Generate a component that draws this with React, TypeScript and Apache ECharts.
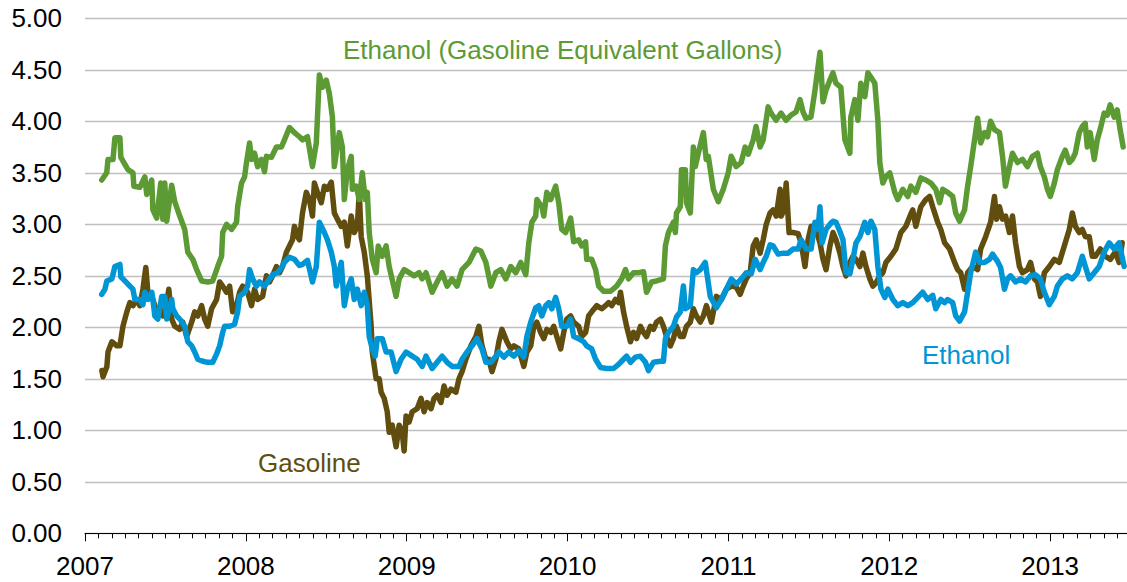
import React, { useEffect, useRef } from "react";
import * as echarts from "echarts";

// Y axis ticks (dollars per gallon)
const Y_MIN = 0;
const Y_MAX = 5;
const Y_STEP = 0.5;
// X axis (years)
const X_MIN = 2007;
const X_MAX = 2014;
const YEAR_LABELS = [2007, 2008, 2009, 2010, 2011, 2012, 2013];

const SERIES_NAMES = ["Gasoline", "Ethanol", "Ethanol (Gasoline Equivalent Gallons)"];
const COLORS = { gasoline: "#614E0E", ethanol: "#0096D6", gge: "#5C9A34" };

// [decimal year, $/gal]
const ETHANOL_GGE: [number, number][] = [[2007.104,3.43],[2007.135,3.50],[2007.143,3.63],[2007.174,3.63],[2007.186,3.84],[2007.217,3.84],[2007.223,3.65],[2007.267,3.53],[2007.298,3.50],[2007.304,3.37],[2007.341,3.36],[2007.372,3.46],[2007.384,3.29],[2007.415,3.43],[2007.422,3.14],[2007.446,3.06],[2007.471,3.40],[2007.484,3.05],[2007.496,3.40],[2007.508,3.03],[2007.539,3.38],[2007.558,3.22],[2007.589,3.08],[2007.620,2.95],[2007.639,2.73],[2007.670,2.66],[2007.694,2.56],[2007.725,2.45],[2007.763,2.44],[2007.794,2.45],[2007.825,2.59],[2007.849,2.69],[2007.856,2.92],[2007.880,3.00],[2007.911,2.95],[2007.942,3.02],[2007.949,3.17],[2007.973,3.40],[2007.992,3.46],[2008.004,3.60],[2008.023,3.79],[2008.035,3.63],[2008.054,3.69],[2008.073,3.56],[2008.097,3.63],[2008.116,3.51],[2008.128,3.66],[2008.159,3.65],[2008.190,3.75],[2008.221,3.75],[2008.240,3.82],[2008.271,3.94],[2008.302,3.89],[2008.333,3.85],[2008.352,3.82],[2008.383,3.85],[2008.414,3.56],[2008.438,3.79],[2008.457,4.45],[2008.476,4.33],[2008.500,4.40],[2008.519,4.27],[2008.538,4.04],[2008.550,3.56],[2008.581,3.89],[2008.600,3.75],[2008.612,3.24],[2008.631,3.53],[2008.655,3.66],[2008.662,3.34],[2008.686,3.37],[2008.705,3.24],[2008.724,3.50],[2008.742,3.24],[2008.755,3.31],[2008.767,2.92],[2008.786,2.66],[2008.810,2.53],[2008.823,2.79],[2008.848,2.69],[2008.872,2.79],[2008.891,2.59],[2008.934,2.30],[2008.953,2.47],[2008.984,2.56],[2009.015,2.53],[2009.046,2.50],[2009.077,2.53],[2009.096,2.47],[2009.120,2.53],[2009.158,2.34],[2009.189,2.44],[2009.220,2.53],[2009.251,2.40],[2009.282,2.47],[2009.313,2.40],[2009.344,2.56],[2009.387,2.63],[2009.430,2.76],[2009.461,2.74],[2009.492,2.63],[2009.523,2.40],[2009.554,2.53],[2009.585,2.56],[2009.616,2.47],[2009.647,2.59],[2009.678,2.53],[2009.709,2.63],[2009.740,2.51],[2009.759,2.82],[2009.778,3.02],[2009.802,3.08],[2009.809,3.24],[2009.840,3.17],[2009.852,3.08],[2009.871,3.31],[2009.895,3.24],[2009.926,3.37],[2009.945,3.21],[2009.964,2.95],[2009.988,2.92],[2010.019,3.06],[2010.038,2.83],[2010.069,2.85],[2010.088,2.79],[2010.112,2.83],[2010.119,2.66],[2010.150,2.66],[2010.174,2.56],[2010.193,2.40],[2010.224,2.35],[2010.267,2.35],[2010.305,2.40],[2010.336,2.47],[2010.360,2.56],[2010.379,2.47],[2010.410,2.53],[2010.441,2.53],[2010.472,2.54],[2010.491,2.34],[2010.522,2.44],[2010.553,2.45],[2010.596,2.47],[2010.608,2.79],[2010.627,2.92],[2010.658,3.02],[2010.670,2.92],[2010.677,3.11],[2010.701,3.17],[2010.708,3.53],[2010.732,3.53],[2010.739,3.21],[2010.763,3.11],[2010.782,3.75],[2010.794,3.56],[2010.813,3.69],[2010.844,3.89],[2010.862,3.63],[2010.875,3.66],[2010.906,3.34],[2010.937,3.22],[2010.968,3.34],[2010.999,3.50],[2011.017,3.66],[2011.048,3.56],[2011.079,3.60],[2011.104,3.75],[2011.123,3.68],[2011.154,3.82],[2011.172,3.95],[2011.197,3.75],[2011.216,3.82],[2011.247,4.14],[2011.265,4.08],[2011.296,4.01],[2011.327,4.08],[2011.358,4.01],[2011.389,4.06],[2011.420,4.09],[2011.445,4.21],[2011.464,4.09],[2011.482,4.03],[2011.513,4.04],[2011.538,4.30],[2011.569,4.67],[2011.588,4.19],[2011.606,4.30],[2011.631,4.40],[2011.650,4.47],[2011.668,4.37],[2011.699,4.33],[2011.724,3.82],[2011.755,3.69],[2011.761,4.04],[2011.786,4.21],[2011.805,4.01],[2011.823,4.37],[2011.848,4.24],[2011.867,4.47],[2011.885,4.43],[2011.910,4.37],[2011.929,4.01],[2011.941,3.60],[2011.960,3.40],[2011.978,3.46],[2012.003,3.50],[2012.034,3.31],[2012.053,3.24],[2012.084,3.34],[2012.115,3.27],[2012.134,3.37],[2012.165,3.31],[2012.196,3.45],[2012.227,3.43],[2012.258,3.40],[2012.289,3.34],[2012.313,3.21],[2012.332,3.34],[2012.363,3.31],[2012.394,3.27],[2012.413,3.11],[2012.437,3.03],[2012.468,3.14],[2012.487,3.37],[2012.506,3.56],[2012.530,3.82],[2012.549,4.03],[2012.568,3.79],[2012.592,3.89],[2012.611,3.85],[2012.630,4.00],[2012.654,3.92],[2012.685,3.89],[2012.704,3.66],[2012.722,3.37],[2012.747,3.56],[2012.766,3.69],[2012.797,3.60],[2012.828,3.63],[2012.859,3.56],[2012.890,3.66],[2012.921,3.69],[2012.939,3.56],[2012.964,3.46],[2012.983,3.34],[2013.001,3.27],[2013.026,3.40],[2013.045,3.53],[2013.076,3.66],[2013.094,3.72],[2013.119,3.60],[2013.138,3.63],[2013.156,3.69],[2013.181,3.89],[2013.200,3.95],[2013.218,3.98],[2013.231,3.75],[2013.249,3.89],[2013.274,3.63],[2013.293,3.82],[2013.311,3.92],[2013.336,4.08],[2013.355,4.06],[2013.373,4.16],[2013.398,4.04],[2013.417,4.11],[2013.435,3.92],[2013.454,3.75]];

const ETHANOL: [number, number][] = [[2007.104,2.32],[2007.124,2.37],[2007.136,2.45],[2007.167,2.47],[2007.186,2.59],[2007.217,2.61],[2007.223,2.49],[2007.248,2.45],[2007.279,2.40],[2007.298,2.37],[2007.310,2.27],[2007.341,2.27],[2007.360,2.22],[2007.372,2.34],[2007.391,2.27],[2007.415,2.34],[2007.422,2.27],[2007.434,2.11],[2007.453,2.08],[2007.477,2.30],[2007.496,2.30],[2007.508,2.08],[2007.539,2.27],[2007.546,2.18],[2007.570,2.11],[2007.589,2.08],[2007.620,2.01],[2007.639,1.86],[2007.663,1.82],[2007.682,1.76],[2007.701,1.69],[2007.732,1.67],[2007.763,1.66],[2007.794,1.66],[2007.818,1.74],[2007.837,1.82],[2007.856,1.95],[2007.868,2.01],[2007.899,2.01],[2007.930,2.03],[2007.949,2.15],[2007.961,2.30],[2007.992,2.34],[2008.011,2.40],[2008.023,2.56],[2008.042,2.47],[2008.066,2.40],[2008.085,2.44],[2008.116,2.40],[2008.147,2.47],[2008.166,2.51],[2008.197,2.53],[2008.221,2.58],[2008.240,2.63],[2008.271,2.68],[2008.302,2.66],[2008.333,2.60],[2008.352,2.61],[2008.383,2.65],[2008.414,2.44],[2008.438,2.59],[2008.457,3.02],[2008.488,2.92],[2008.507,2.85],[2008.531,2.73],[2008.550,2.59],[2008.562,2.40],[2008.593,2.63],[2008.612,2.21],[2008.631,2.37],[2008.655,2.47],[2008.674,2.27],[2008.693,2.37],[2008.717,2.21],[2008.736,2.34],[2008.755,2.21],[2008.767,1.91],[2008.786,1.79],[2008.804,1.72],[2008.817,1.89],[2008.848,1.89],[2008.872,1.76],[2008.903,1.76],[2008.934,1.57],[2008.965,1.69],[2008.996,1.76],[2009.034,1.72],[2009.065,1.69],[2009.096,1.62],[2009.120,1.72],[2009.158,1.60],[2009.189,1.66],[2009.220,1.72],[2009.251,1.66],[2009.282,1.62],[2009.325,1.62],[2009.344,1.69],[2009.375,1.76],[2009.406,1.82],[2009.437,1.89],[2009.468,1.79],[2009.492,1.66],[2009.523,1.66],[2009.554,1.72],[2009.573,1.76],[2009.604,1.71],[2009.635,1.76],[2009.666,1.72],[2009.697,1.77],[2009.728,1.71],[2009.747,1.91],[2009.771,2.05],[2009.802,2.19],[2009.821,2.21],[2009.840,2.11],[2009.864,2.21],[2009.883,2.24],[2009.902,2.18],[2009.926,2.29],[2009.945,2.18],[2009.964,2.01],[2009.995,2.01],[2010.019,2.08],[2010.038,1.91],[2010.069,1.89],[2010.100,1.86],[2010.119,1.82],[2010.150,1.79],[2010.174,1.69],[2010.205,1.61],[2010.243,1.60],[2010.286,1.60],[2010.317,1.64],[2010.348,1.69],[2010.367,1.72],[2010.391,1.66],[2010.422,1.71],[2010.453,1.72],[2010.484,1.66],[2010.503,1.58],[2010.534,1.66],[2010.577,1.67],[2010.596,1.67],[2010.608,1.89],[2010.627,1.95],[2010.658,2.01],[2010.677,2.10],[2010.701,2.15],[2010.720,2.40],[2010.732,2.18],[2010.763,2.21],[2010.782,2.56],[2010.801,2.53],[2010.825,2.56],[2010.856,2.63],[2010.887,2.30],[2010.925,2.19],[2010.956,2.27],[2010.987,2.37],[2011.018,2.47],[2011.049,2.42],[2011.080,2.47],[2011.111,2.53],[2011.142,2.52],[2011.166,2.66],[2011.197,2.56],[2011.216,2.63],[2011.235,2.69],[2011.259,2.80],[2011.278,2.79],[2011.309,2.71],[2011.340,2.72],[2011.371,2.72],[2011.402,2.76],[2011.433,2.76],[2011.452,2.85],[2011.483,2.76],[2011.514,2.76],[2011.538,3.02],[2011.557,2.95],[2011.569,3.17],[2011.582,2.82],[2011.607,2.95],[2011.631,3.00],[2011.650,3.03],[2011.669,3.02],[2011.693,2.93],[2011.712,2.85],[2011.731,2.53],[2011.755,2.52],[2011.774,2.66],[2011.793,2.82],[2011.817,2.88],[2011.848,3.02],[2011.867,2.92],[2011.886,3.03],[2011.910,2.95],[2011.929,2.59],[2011.948,2.37],[2011.972,2.29],[2011.991,2.37],[2012.022,2.27],[2012.053,2.21],[2012.084,2.24],[2012.115,2.21],[2012.146,2.24],[2012.177,2.29],[2012.208,2.34],[2012.239,2.27],[2012.270,2.31],[2012.289,2.18],[2012.320,2.27],[2012.344,2.24],[2012.363,2.27],[2012.394,2.24],[2012.413,2.11],[2012.437,2.06],[2012.468,2.15],[2012.487,2.34],[2012.506,2.53],[2012.537,2.73],[2012.561,2.63],[2012.592,2.63],[2012.623,2.66],[2012.642,2.71],[2012.673,2.64],[2012.692,2.58],[2012.716,2.37],[2012.735,2.47],[2012.754,2.50],[2012.785,2.44],[2012.816,2.47],[2012.847,2.44],[2012.878,2.50],[2012.909,2.51],[2012.940,2.47],[2012.964,2.34],[2012.995,2.22],[2013.026,2.30],[2013.045,2.40],[2013.076,2.47],[2013.107,2.50],[2013.138,2.47],[2013.169,2.53],[2013.200,2.69],[2013.219,2.59],[2013.243,2.47],[2013.274,2.53],[2013.305,2.59],[2013.336,2.73],[2013.367,2.82],[2013.398,2.76],[2013.429,2.82],[2013.460,2.59]];

const GASOLINE: [number, number][] = [[2007.105,1.58],[2007.112,1.52],[2007.136,1.62],[2007.143,1.76],[2007.167,1.86],[2007.198,1.82],[2007.217,1.82],[2007.236,2.01],[2007.260,2.15],[2007.279,2.24],[2007.298,2.21],[2007.322,2.27],[2007.341,2.21],[2007.360,2.37],[2007.378,2.58],[2007.391,2.34],[2007.415,2.30],[2007.434,2.21],[2007.453,2.15],[2007.484,2.11],[2007.508,2.24],[2007.521,2.37],[2007.539,2.08],[2007.558,2.01],[2007.589,1.98],[2007.608,2.05],[2007.632,1.91],[2007.663,2.05],[2007.682,2.15],[2007.701,2.11],[2007.725,2.21],[2007.744,2.08],[2007.763,2.01],[2007.787,2.18],[2007.818,2.27],[2007.837,2.44],[2007.856,2.40],[2007.880,2.34],[2007.899,2.40],[2007.918,2.15],[2007.942,2.21],[2007.961,2.34],[2007.980,2.40],[2008.011,2.34],[2008.035,2.21],[2008.054,2.37],[2008.073,2.27],[2008.104,2.30],[2008.128,2.50],[2008.147,2.44],[2008.166,2.50],[2008.190,2.59],[2008.209,2.53],[2008.228,2.59],[2008.252,2.73],[2008.271,2.79],[2008.290,2.85],[2008.302,2.98],[2008.321,2.88],[2008.333,2.85],[2008.352,3.11],[2008.376,3.31],[2008.395,3.24],[2008.414,3.08],[2008.426,3.40],[2008.445,3.31],[2008.469,3.21],[2008.488,3.37],[2008.507,3.34],[2008.531,3.41],[2008.550,3.11],[2008.569,3.05],[2008.593,2.98],[2008.612,3.02],[2008.631,2.79],[2008.655,3.08],[2008.674,2.92],[2008.693,2.98],[2008.705,3.31],[2008.717,2.88],[2008.736,2.73],[2008.755,2.50],[2008.779,2.01],[2008.786,1.76],[2008.810,1.50],[2008.829,1.50],[2008.841,1.37],[2008.860,1.31],[2008.879,1.18],[2008.891,0.98],[2008.910,1.05],[2008.934,0.84],[2008.953,1.05],[2008.972,0.98],[2008.984,0.80],[2008.996,1.14],[2009.015,1.08],[2009.034,1.18],[2009.065,1.21],[2009.089,1.31],[2009.108,1.18],[2009.127,1.27],[2009.151,1.21],[2009.170,1.31],[2009.189,1.34],[2009.213,1.27],[2009.232,1.43],[2009.251,1.34],[2009.275,1.40],[2009.306,1.37],[2009.325,1.50],[2009.344,1.57],[2009.368,1.69],[2009.399,1.82],[2009.430,1.91],[2009.449,2.01],[2009.468,1.82],[2009.492,1.69],[2009.511,1.69],[2009.530,1.57],[2009.554,1.69],[2009.573,1.86],[2009.592,1.98],[2009.623,1.86],[2009.647,1.79],[2009.666,1.82],[2009.697,1.79],[2009.728,1.62],[2009.747,1.76],[2009.771,1.82],[2009.790,2.01],[2009.809,2.05],[2009.833,1.95],[2009.852,1.89],[2009.871,1.98],[2009.895,1.95],[2009.914,2.01],[2009.933,1.91],[2009.957,1.79],[2009.976,1.95],[2009.995,2.08],[2010.019,2.11],[2010.038,2.05],[2010.069,2.01],[2010.088,1.91],[2010.112,1.95],[2010.131,2.11],[2010.150,2.15],[2010.181,2.21],[2010.212,2.18],[2010.236,2.21],[2010.255,2.24],[2010.274,2.21],[2010.298,2.27],[2010.317,2.24],[2010.329,2.34],[2010.348,2.15],[2010.367,2.01],[2010.391,1.86],[2010.410,1.95],[2010.429,1.89],[2010.453,2.01],[2010.472,1.95],[2010.491,1.91],[2010.515,2.01],[2010.534,1.98],[2010.553,2.05],[2010.577,2.08],[2010.596,2.01],[2010.615,1.91],[2010.639,1.82],[2010.658,1.89],[2010.677,2.01],[2010.701,1.91],[2010.720,1.91],[2010.739,2.01],[2010.763,2.05],[2010.782,2.18],[2010.801,2.11],[2010.825,2.05],[2010.844,2.11],[2010.863,2.21],[2010.894,2.05],[2010.925,2.30],[2010.956,2.27],[2010.987,2.37],[2011.018,2.40],[2011.049,2.39],[2011.073,2.32],[2011.092,2.40],[2011.111,2.47],[2011.135,2.53],[2011.154,2.79],[2011.173,2.85],[2011.197,2.72],[2011.216,2.85],[2011.235,3.00],[2011.259,3.11],[2011.278,3.14],[2011.297,3.08],[2011.321,3.34],[2011.328,3.08],[2011.346,3.14],[2011.359,3.40],[2011.377,2.92],[2011.402,2.92],[2011.433,2.91],[2011.452,2.82],[2011.476,2.59],[2011.495,2.85],[2011.514,2.98],[2011.538,2.98],[2011.569,2.82],[2011.588,2.66],[2011.607,2.56],[2011.631,2.79],[2011.650,2.92],[2011.669,2.85],[2011.693,2.72],[2011.712,2.59],[2011.731,2.50],[2011.755,2.63],[2011.774,2.69],[2011.793,2.66],[2011.817,2.59],[2011.836,2.72],[2011.855,2.59],[2011.879,2.47],[2011.898,2.40],[2011.917,2.43],[2011.941,2.50],[2011.960,2.53],[2011.979,2.63],[2012.010,2.69],[2012.041,2.76],[2012.072,2.92],[2012.103,2.98],[2012.134,3.10],[2012.146,3.14],[2012.165,2.98],[2012.196,3.17],[2012.227,3.24],[2012.251,3.27],[2012.270,3.17],[2012.301,3.02],[2012.320,2.95],[2012.344,2.82],[2012.375,2.76],[2012.406,2.63],[2012.425,2.56],[2012.444,2.53],[2012.468,2.37],[2012.487,2.53],[2012.518,2.59],[2012.549,2.56],[2012.568,2.76],[2012.599,2.88],[2012.630,3.02],[2012.654,3.27],[2012.667,3.05],[2012.685,3.17],[2012.704,3.05],[2012.723,3.08],[2012.747,2.92],[2012.766,3.08],[2012.785,2.82],[2012.809,2.59],[2012.828,2.53],[2012.859,2.56],[2012.878,2.63],[2012.902,2.47],[2012.921,2.44],[2012.940,2.30],[2012.964,2.53],[2012.995,2.59],[2013.026,2.66],[2013.057,2.63],[2013.088,2.79],[2013.119,2.95],[2013.138,3.11],[2013.157,2.98],[2013.181,2.92],[2013.200,2.95],[2013.219,2.88],[2013.243,2.88],[2013.262,2.69],[2013.281,2.69],[2013.312,2.76],[2013.343,2.69],[2013.374,2.66],[2013.405,2.73],[2013.429,2.63],[2013.448,2.82]];

const FONT = '"Liberation Sans", Arial, Helvetica, sans-serif';

export default function App() {
  const ref = useRef<HTMLDivElement>(null);

  useEffect(() => {
    if (!ref.current) return;
    const chart = echarts.init(ref.current, undefined, { renderer: "svg" });
    const lineStyle = (color: string) => ({ color, width: 5.5, cap: "round", join: "round" });
    chart.setOption({
      animation: false,
      backgroundColor: "#ffffff",
      grid: { left: 85, right: 0, top: 18.3, bottom: 48.7, containLabel: false },
      xAxis: {
        type: "value",
        min: X_MIN,
        max: X_MAX,
        interval: 1,
        axisLine: { show: true, lineStyle: { color: "#000000", width: 1 } },
        axisTick: { show: true, length: 8, lineStyle: { color: "#000000", width: 1 } },
        minorTick: { show: true, splitNumber: 12, length: 5, lineStyle: { color: "#000000", width: 1 } },
        splitLine: { show: false },
        axisLabel: {
          margin: 20,
          fontSize: 26,
          fontFamily: FONT,
          color: "#000000",
          formatter: (v: number) => (YEAR_LABELS.includes(Math.round(v)) && Math.abs(v - Math.round(v)) < 1e-6 ? String(Math.round(v)) : ""),
        },
      },
      yAxis: {
        type: "value",
        min: Y_MIN,
        max: Y_MAX,
        interval: Y_STEP,
        axisLine: { show: false },
        axisTick: { show: false },
        splitLine: { show: true, lineStyle: { color: "#BFBFBF", width: 1.3 } },
        axisLabel: {
          margin: 23,
          fontSize: 26,
          fontFamily: FONT,
          color: "#000000",
          formatter: (v: number) => v.toFixed(2),
        },
      },
      series: [
        { name: SERIES_NAMES[0], type: "line", data: GASOLINE, showSymbol: false, symbol: "none", lineStyle: lineStyle(COLORS.gasoline), z: 2 },
        { name: SERIES_NAMES[1], type: "line", data: ETHANOL, showSymbol: false, symbol: "none", lineStyle: lineStyle(COLORS.ethanol), z: 3 },
        { name: SERIES_NAMES[2], type: "line", data: ETHANOL_GGE, showSymbol: false, symbol: "none", lineStyle: lineStyle(COLORS.gge), z: 4 },
      ],
      graphic: [
        { type: "text", x: 343, y: 50, style: { text: SERIES_NAMES[2], fill: COLORS.gge, fontSize: 26, fontFamily: FONT, verticalAlign: "middle", textVerticalAlign: "middle" } },
        { type: "text", x: 258, y: 463, style: { text: SERIES_NAMES[0], fill: COLORS.gasoline, fontSize: 26, fontFamily: FONT, verticalAlign: "middle", textVerticalAlign: "middle" } },
        { type: "text", x: 922, y: 355, style: { text: SERIES_NAMES[1], fill: COLORS.ethanol, fontSize: 26, fontFamily: FONT, verticalAlign: "middle", textVerticalAlign: "middle" } },
      ],
    });
    return () => chart.dispose();
  }, []);

  // The plot runs to the start of 2014; the visible window is cut at mid-2013 as in the original.
  return (
    <div style={{ position: "absolute", left: 0, top: 0, width: 1127, height: 582, overflow: "hidden", background: "#fff" }}>
      <div ref={ref} style={{ position: "absolute", left: 0, top: 0, width: 1214, height: 582 }} />
    </div>
  );
}
